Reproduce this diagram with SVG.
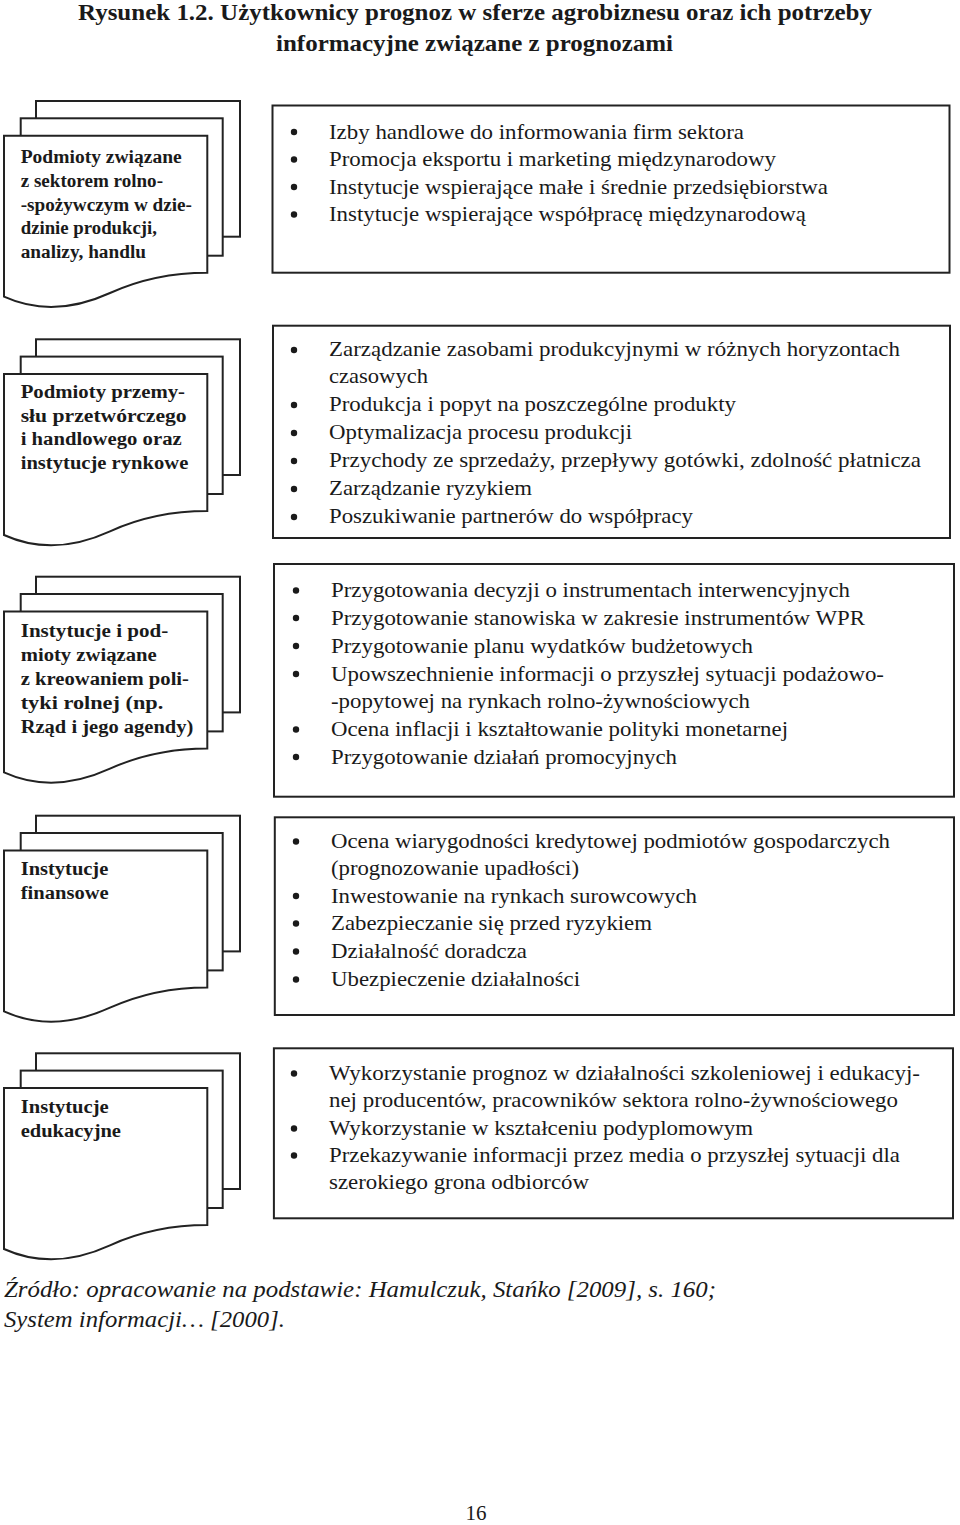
<svg xmlns="http://www.w3.org/2000/svg" width="960" height="1525" viewBox="0 0 960 1525" font-family="'Liberation Serif', 'Times New Roman', Times, serif">
<style>
.pg{fill:#fff;stroke:#222;stroke-width:2;stroke-linejoin:miter}
.box{fill:#fff;stroke:#222;stroke-width:2}
.lt{font-weight:bold;font-size:18px;fill:#1a1a1a}
.rt{font-size:21px;fill:#1a1a1a}
.ttl{font-weight:bold;font-size:23px;fill:#1a1a1a}
.ft{font-style:italic;font-size:23px;fill:#1a1a1a}
.b{fill:#1a1a1a}
</style>
<rect width="960" height="1525" fill="#fff"/>
<g id="title" font-family="Liberation Serif">
<text class="ttl" x="78" y="20" textLength="794" lengthAdjust="spacingAndGlyphs">Rysunek 1.2. Użytkownicy prognoz w sferze agrobiznesu oraz ich potrzeby</text>
<text class="ttl" x="276" y="51" textLength="397" lengthAdjust="spacingAndGlyphs">informacyjne związane z prognozami</text>
</g>
<g id="connectors"/>
<g id="doc1" transform="translate(0,101)" font-family="Liberation Serif">
<rect class="pg" x="36" y="0" width="204" height="135.7"/>
<rect class="pg" x="20.7" y="17.3" width="202" height="137.4"/>
<path class="pg" d="M4,34.7 H207.3 V171.7 C180,171.7 145,176 110,192 C75,208 40,212 4,195.7 Z"/>
<text class="lt" x="20.7" y="61.7" textLength="161" lengthAdjust="spacingAndGlyphs">Podmioty związane</text>
<text class="lt" x="20.7" y="85.7" textLength="142.3" lengthAdjust="spacingAndGlyphs">z sektorem rolno-</text>
<text class="lt" x="20.7" y="109.7" textLength="171.3" lengthAdjust="spacingAndGlyphs">-spożywczym w dzie-</text>
<text class="lt" x="20.7" y="133" textLength="136.3" lengthAdjust="spacingAndGlyphs">dzinie produkcji,</text>
<text class="lt" x="20.7" y="157.3" textLength="125.3" lengthAdjust="spacingAndGlyphs">analizy, handlu</text>
</g>
<g id="doc2" transform="translate(0,339.3)" font-family="Liberation Serif">
<rect class="pg" x="36" y="0" width="204" height="135.7"/>
<rect class="pg" x="20.7" y="17.3" width="202" height="137.4"/>
<path class="pg" d="M4,34.7 H207.3 V171.7 C180,171.7 145,176 110,192 C75,208 40,212 4,195.7 Z"/>
<text class="lt" x="20.7" y="59" textLength="164.3" lengthAdjust="spacingAndGlyphs">Podmioty przemy-</text>
<text class="lt" x="20.7" y="82.4" textLength="166" lengthAdjust="spacingAndGlyphs">słu przetwórczego</text>
<text class="lt" x="20.7" y="105.7" textLength="161" lengthAdjust="spacingAndGlyphs">i handlowego oraz</text>
<text class="lt" x="20.7" y="129.7" textLength="167.6" lengthAdjust="spacingAndGlyphs">instytucje rynkowe</text>
</g>
<g id="doc3" transform="translate(0,576.7)" font-family="Liberation Serif">
<rect class="pg" x="36" y="0" width="204" height="135.7"/>
<rect class="pg" x="20.7" y="17.3" width="202" height="137.4"/>
<path class="pg" d="M4,34.7 H207.3 V171.7 C180,171.7 145,176 110,192 C75,208 40,212 4,195.7 Z"/>
<text class="lt" x="20.7" y="60" textLength="147.6" lengthAdjust="spacingAndGlyphs">Instytucje i pod-</text>
<text class="lt" x="20.7" y="84" textLength="136" lengthAdjust="spacingAndGlyphs">mioty związane</text>
<text class="lt" x="20.7" y="108.3" textLength="168.3" lengthAdjust="spacingAndGlyphs">z kreowaniem poli-</text>
<text class="lt" x="20.7" y="132.6" textLength="142.6" lengthAdjust="spacingAndGlyphs">tyki rolnej (np.</text>
<text class="lt" x="20.7" y="156.6" textLength="172.6" lengthAdjust="spacingAndGlyphs">Rząd i jego agendy)</text>
</g>
<g id="doc4" transform="translate(0,815.7)" font-family="Liberation Serif">
<rect class="pg" x="36" y="0" width="204" height="135.7"/>
<rect class="pg" x="20.7" y="17.3" width="202" height="137.4"/>
<path class="pg" d="M4,34.7 H207.3 V171.7 C180,171.7 145,176 110,192 C75,208 40,212 4,195.7 Z"/>
<text class="lt" x="20.7" y="59.3" textLength="87.6" lengthAdjust="spacingAndGlyphs">Instytucje</text>
<text class="lt" x="20.7" y="83.3" textLength="88" lengthAdjust="spacingAndGlyphs">finansowe</text>
</g>
<g id="doc5" transform="translate(0,1053.3)" font-family="Liberation Serif">
<rect class="pg" x="36" y="0" width="204" height="135.7"/>
<rect class="pg" x="20.7" y="17.3" width="202" height="137.4"/>
<path class="pg" d="M4,34.7 H207.3 V171.7 C180,171.7 145,176 110,192 C75,208 40,212 4,195.7 Z"/>
<text class="lt" x="20.7" y="60" textLength="88" lengthAdjust="spacingAndGlyphs">Instytucje</text>
<text class="lt" x="20.7" y="84" textLength="100.3" lengthAdjust="spacingAndGlyphs">edukacyjne</text>
</g>
<g id="box1" font-family="Liberation Serif">
<rect class="box" x="272.5" y="105.5" width="677" height="167.2"/>
<circle class="b" cx="294" cy="132" r="3.2"/>
<circle class="b" cx="294" cy="159.5" r="3.2"/>
<circle class="b" cx="294" cy="187" r="3.2"/>
<circle class="b" cx="294" cy="214.5" r="3.2"/>
<text class="rt" x="329" y="138.5" textLength="415" lengthAdjust="spacingAndGlyphs">Izby handlowe do informowania firm sektora</text>
<text class="rt" x="329" y="166" textLength="447" lengthAdjust="spacingAndGlyphs">Promocja eksportu i marketing międzynarodowy</text>
<text class="rt" x="329" y="193.5" textLength="499" lengthAdjust="spacingAndGlyphs">Instytucje wspierające małe i średnie przedsiębiorstwa</text>
<text class="rt" x="329" y="221" textLength="477" lengthAdjust="spacingAndGlyphs">Instytucje wspierające współpracę międzynarodową</text>
</g>
<g id="box2" font-family="Liberation Serif">
<rect class="box" x="273" y="325.7" width="677" height="212.3"/>
<circle class="b" cx="294" cy="350" r="3.2"/>
<circle class="b" cx="294" cy="405" r="3.2"/>
<circle class="b" cx="294" cy="433" r="3.2"/>
<circle class="b" cx="294" cy="461" r="3.2"/>
<circle class="b" cx="294" cy="489" r="3.2"/>
<circle class="b" cx="294" cy="517" r="3.2"/>
<text class="rt" x="329" y="356" textLength="571" lengthAdjust="spacingAndGlyphs">Zarządzanie zasobami produkcyjnymi w różnych horyzontach</text>
<text class="rt" x="329" y="383" textLength="99" lengthAdjust="spacingAndGlyphs">czasowych</text>
<text class="rt" x="329" y="411" textLength="407" lengthAdjust="spacingAndGlyphs">Produkcja i popyt na poszczególne produkty</text>
<text class="rt" x="329" y="439" textLength="303" lengthAdjust="spacingAndGlyphs">Optymalizacja procesu produkcji</text>
<text class="rt" x="329" y="467" textLength="592" lengthAdjust="spacingAndGlyphs">Przychody ze sprzedaży, przepływy gotówki, zdolność płatnicza</text>
<text class="rt" x="329" y="495" textLength="203" lengthAdjust="spacingAndGlyphs">Zarządzanie ryzykiem</text>
<text class="rt" x="329" y="523" textLength="364" lengthAdjust="spacingAndGlyphs">Poszukiwanie partnerów do współpracy</text>
</g>
<g id="box3" font-family="Liberation Serif">
<rect class="box" x="274" y="564" width="680" height="232.7"/>
<circle class="b" cx="296" cy="590.5" r="3.2"/>
<circle class="b" cx="296" cy="618" r="3.2"/>
<circle class="b" cx="296" cy="646" r="3.2"/>
<circle class="b" cx="296" cy="674" r="3.2"/>
<circle class="b" cx="296" cy="729.5" r="3.2"/>
<circle class="b" cx="296" cy="757" r="3.2"/>
<text class="rt" x="331" y="597" textLength="519" lengthAdjust="spacingAndGlyphs">Przygotowania decyzji o instrumentach interwencyjnych</text>
<text class="rt" x="331" y="624.5" textLength="534" lengthAdjust="spacingAndGlyphs">Przygotowanie stanowiska w zakresie instrumentów WPR</text>
<text class="rt" x="331" y="652.5" textLength="422" lengthAdjust="spacingAndGlyphs">Przygotowanie planu wydatków budżetowych</text>
<text class="rt" x="331" y="680.5" textLength="553" lengthAdjust="spacingAndGlyphs">Upowszechnienie informacji o przyszłej sytuacji podażowo-</text>
<text class="rt" x="331" y="708" textLength="419" lengthAdjust="spacingAndGlyphs">-popytowej na rynkach rolno-żywnościowych</text>
<text class="rt" x="331" y="736" textLength="457" lengthAdjust="spacingAndGlyphs">Ocena inflacji i kształtowanie polityki monetarnej</text>
<text class="rt" x="331" y="763.5" textLength="346" lengthAdjust="spacingAndGlyphs">Przygotowanie działań promocyjnych</text>
</g>
<g id="box4" font-family="Liberation Serif">
<rect class="box" x="274.8" y="817.3" width="679.2" height="197.7"/>
<circle class="b" cx="296" cy="841.5" r="3.2"/>
<circle class="b" cx="296" cy="896" r="3.2"/>
<circle class="b" cx="296" cy="923.5" r="3.2"/>
<circle class="b" cx="296" cy="951.5" r="3.2"/>
<circle class="b" cx="296" cy="979.5" r="3.2"/>
<text class="rt" x="331" y="848" textLength="559" lengthAdjust="spacingAndGlyphs">Ocena wiarygodności kredytowej podmiotów gospodarczych</text>
<text class="rt" x="331" y="875" textLength="248" lengthAdjust="spacingAndGlyphs">(prognozowanie upadłości)</text>
<text class="rt" x="331" y="902.5" textLength="366" lengthAdjust="spacingAndGlyphs">Inwestowanie na rynkach surowcowych</text>
<text class="rt" x="331" y="930" textLength="321" lengthAdjust="spacingAndGlyphs">Zabezpieczanie się przed ryzykiem</text>
<text class="rt" x="331" y="958" textLength="196" lengthAdjust="spacingAndGlyphs">Działalność doradcza</text>
<text class="rt" x="331" y="986" textLength="249" lengthAdjust="spacingAndGlyphs">Ubezpieczenie działalności</text>
</g>
<g id="box5" font-family="Liberation Serif">
<rect class="box" x="273.9" y="1048.3" width="679.1" height="170"/>
<circle class="b" cx="294" cy="1073.5" r="3.2"/>
<circle class="b" cx="294" cy="1128.5" r="3.2"/>
<circle class="b" cx="294" cy="1155.5" r="3.2"/>
<text class="rt" x="329" y="1080" textLength="591" lengthAdjust="spacingAndGlyphs">Wykorzystanie prognoz w działalności szkoleniowej i edukacyj-</text>
<text class="rt" x="329" y="1107" textLength="569" lengthAdjust="spacingAndGlyphs">nej producentów, pracowników sektora rolno-żywnościowego</text>
<text class="rt" x="329" y="1135" textLength="424" lengthAdjust="spacingAndGlyphs">Wykorzystanie w kształceniu podyplomowym</text>
<text class="rt" x="329" y="1162" textLength="571" lengthAdjust="spacingAndGlyphs">Przekazywanie informacji przez media o przyszłej sytuacji dla</text>
<text class="rt" x="329" y="1189" textLength="260" lengthAdjust="spacingAndGlyphs">szerokiego grona odbiorców</text>
</g>
<g id="source" font-family="Liberation Serif">
<text class="ft" x="4" y="1297" textLength="712" lengthAdjust="spacingAndGlyphs">Źródło: opracowanie na podstawie: Hamulczuk, Stańko [2009], s. 160;</text>
<text class="ft" x="4" y="1327" textLength="281" lengthAdjust="spacingAndGlyphs">System informacji… [2000].</text>
</g>
<text x="476" y="1520" text-anchor="middle" font-family="Liberation Serif" font-size="21" fill="#1a1a1a">16</text>
</svg>
